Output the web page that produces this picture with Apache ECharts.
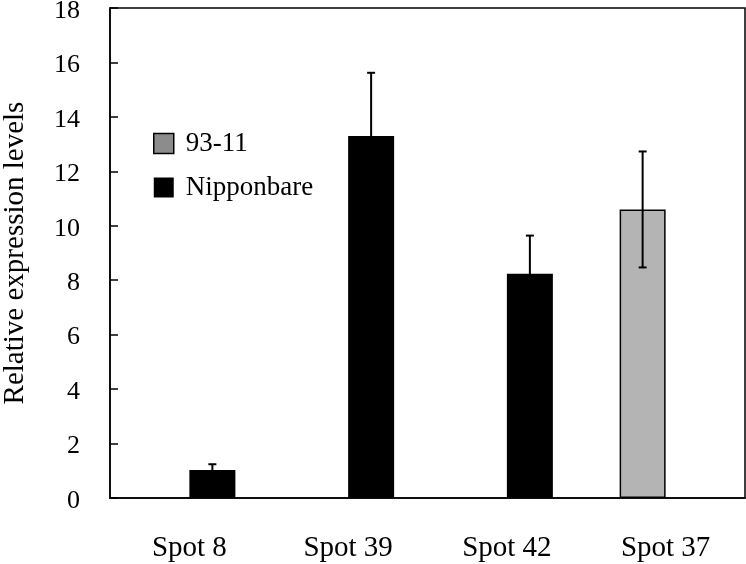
<!DOCTYPE html>
<html>
<head>
<meta charset="utf-8">
<script src="https://cdn.jsdelivr.net/npm/echarts@6/dist/echarts.min.js"></script>
<style>html,body{margin:0;padding:0;background:#fff}#c{width:746px;height:564px}</style>
</head>
<body>
<div id="c"></div>
<script>
const categories = ['Spot 8', 'Spot 39', 'Spot 42', 'Spot 37'];
const yTicks = [0, 2, 4, 6, 8, 10, 12, 14, 16, 18];
const mean9311 = [null, null, null, 10.6];
const err9311 = [null, null, null, 2.13];
const meanNip = [1.03, 13.3, 8.24, null];
const errNip = [0.21, 2.32, 1.4, null];

const FONT = '"Liberation Serif", "Times New Roman", serif';
const BAR_W = 46;

function errRows(means, errs, side) {
  const rows = [];
  means.forEach((m, i) => {
    if (m != null && errs[i] != null) rows.push([i, m - errs[i], m + errs[i], side]);
  });
  return rows;
}

const chart = echarts.init(document.getElementById('c'), null, {renderer: 'canvas'});

function renderErr(params, api) {
  const i = api.value(0);
  const lo = api.coord([i, api.value(1)]);
  const hi = api.coord([i, api.value(2)]);
  const x = lo[0] + api.value(3) * BAR_W / 2;
  const cap = 4;
  const st = {stroke: '#000', lineWidth: 2};
  return {type: 'group', children: [
    {type: 'line', shape: {x1: x, y1: lo[1], x2: x, y2: hi[1]}, style: st},
    {type: 'line', shape: {x1: x - cap, y1: hi[1], x2: x + cap, y2: hi[1]}, style: st},
    {type: 'line', shape: {x1: x - cap, y1: lo[1], x2: x + cap, y2: lo[1]}, style: st}
  ]};
}

chart.setOption({
  animation: false,
  backgroundColor: '#fff',
  textStyle: {fontFamily: FONT},
  grid: {left: 110, right: 1, top: 8, bottom: 66, outerBoundsMode: 'none', containLabel: false,
         show: true, borderColor: '#000', borderWidth: 1.5, backgroundColor: 'transparent'},
  legend: {
    orient: 'vertical', left: 153, top: 130, padding: 0, itemWidth: 20, itemHeight: 20, itemGap: 17,
    icon: 'rect',
    data: [
      {name: '93-11', itemStyle: {color: '#8c8c8c', borderColor: '#000', borderWidth: 1.5}},
      {name: 'Nipponbare', itemStyle: {color: '#000'}}
    ],
    textStyle: {fontFamily: FONT, fontSize: 27, lineHeight: 20, color: '#000', padding: [0, 0, 0, 7]}
  },
  xAxis: {
    type: 'category', data: categories, boundaryGap: true,
    axisLine: {lineStyle: {color: '#000', width: 1.5}},
    axisTick: {inside: true, length: 11, lineStyle: {color: '#000', width: 1.5}},
    axisLabel: {fontFamily: FONT, fontSize: 29, color: '#000', margin: 36}
  },
  yAxis: {
    type: 'value', min: yTicks[0], max: yTicks[yTicks.length - 1], interval: 2,
    name: 'Relative expression levels', nameLocation: 'middle', nameGap: 80,
    nameTextStyle: {fontFamily: FONT, fontSize: 29, color: '#000'},
    axisLine: {show: true, lineStyle: {color: '#000', width: 1.5}},
    axisTick: {show: true, inside: true, length: 8, lineStyle: {color: '#000', width: 1.5}},
    splitLine: {show: false},
    axisLabel: {fontFamily: FONT, fontSize: 26, color: '#000', margin: 30, verticalAlign: 'top', lineHeight: 6}
  },
  series: [
    {name: '93-11', type: 'bar', data: mean9311, barWidth: BAR_W, barGap: '0%',
     itemStyle: {color: '#b4b4b4', borderColor: '#000', borderWidth: 1.5}},
    {name: 'Nipponbare', type: 'bar', data: meanNip, barWidth: BAR_W, barGap: '0%',
     itemStyle: {color: '#000'}},
    {name: 'err9311', type: 'custom', renderItem: renderErr, data: errRows(mean9311, err9311, -1), z: 10},
    {name: 'errNip', type: 'custom', renderItem: renderErr, data: errRows(meanNip, errNip, 1), z: 10}
  ]
});
</script>
</body>
</html>
